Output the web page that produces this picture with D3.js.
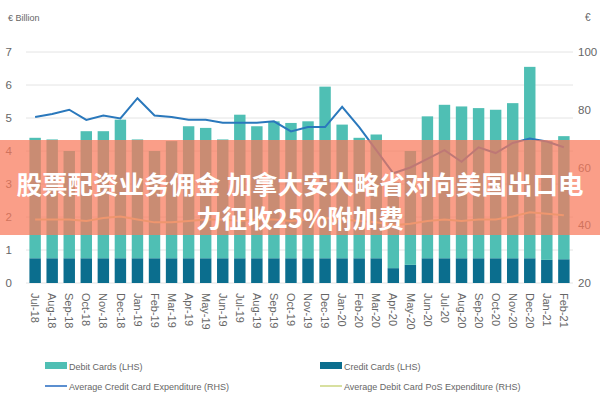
<!DOCTYPE html><html><head><meta charset="utf-8">
<script src="https://cdn.jsdelivr.net/npm/d3@7"></script>
<style>body{margin:0;background:#fff}svg{display:block}</style></head><body>
<svg id="c" width="600" height="400"></svg>
<script>
const months=["Jul-18","Aug-18","Sep-18","Oct-18","Nov-18","Dec-18","Jan-19","Feb-19","Mar-19","Apr-19","May-19","Jun-19","Jul-19","Aug-19","Sep-19","Oct-19","Nov-19","Dec-19","Jan-20","Feb-20","Mar-20","Apr-20","May-20","Jun-20","Jul-20","Aug-20","Sep-20","Oct-20","Nov-20","Dec-20","Jan-21","Feb-21"];
const creditCards=[0.75,0.75,0.75,0.75,0.75,0.75,0.75,0.75,0.75,0.75,0.75,0.75,0.75,0.75,0.75,0.75,0.75,0.75,0.75,0.75,0.75,0.45,0.55,0.75,0.75,0.75,0.75,0.75,0.75,0.75,0.7,0.72];
const debitCards=[3.65,3.6,3.25,3.85,3.85,4.2,3.6,3.25,3.55,4.0,3.95,3.6,4.35,4.0,4.15,4.1,4.15,5.2,4.05,3.65,3.75,2.6,3.45,4.3,4.65,4.6,4.55,4.5,4.7,5.8,3.6,3.73];
const avgCreditExp=[77.5,78.5,80,76.5,78,77,84,78,77.5,76.5,76.5,75.5,75.5,75.5,76,72.5,74,74,81,74,66,58,60,63,66,62,67,65,68.5,70,69,67];
const avgDebitExp=[42,42,42,41.5,42.5,43,42,41,41,41.5,42,42,41.5,42,42,41.5,42,42.5,42,41.5,41,40,40.5,41.5,42,41.5,42,42,43,44.5,44,43.5];
const leftTicks=[0,1,2,3,4,5,6,7], rightTicks=[20,40,60,80,100];
const svg=d3.select("#c");
const m={l:26,r:573,t:52,b:283};
const x=d3.scaleBand().domain(months).range([m.l,m.r]).paddingInner(0.33).paddingOuter(0.2);
const yL=d3.scaleLinear().domain([0,7]).range([m.b,m.t]);
const yR=d3.scaleLinear().domain([20,100]).range([m.b,m.t]);
const tc="#666";
svg.selectAll(".g").data(leftTicks).join("line").attr("x1",m.l).attr("x2",m.r).attr("y1",d=>yL(d)).attr("y2",d=>yL(d)).attr("stroke","#e4e4e4");
const aL=svg.append("g").attr("transform",`translate(${m.l-6},0)`).call(d3.axisLeft(yL).tickValues(leftTicks).tickFormat(d3.format("d")).tickSize(0).tickPadding(8));
const aR=svg.append("g").attr("transform",`translate(${m.r+2},0)`).call(d3.axisRight(yR).tickValues(rightTicks).tickFormat(d3.format("d")).tickSize(0).tickPadding(3));
[aL,aR].forEach(a=>{a.select(".domain").remove();a.selectAll("text").attr("fill",tc).attr("font-family","Liberation Sans").attr("font-size",11.5);});
svg.append("text").attr("x",8).attr("y",21).text("€ Billion").attr("font-size",9).attr("fill",tc).attr("font-family","Liberation Sans");
svg.append("text").attr("x",585).attr("y",21).text("€").attr("font-size",10).attr("fill",tc).attr("font-family","Liberation Sans");
svg.selectAll(".cr").data(months).join("rect").attr("x",d=>x(d)).attr("width",x.bandwidth()).attr("y",(d,i)=>yL(creditCards[i])).attr("height",(d,i)=>yL(0)-yL(creditCards[i])).attr("fill","#0b6e8e");
svg.selectAll(".db").data(months).join("rect").attr("x",d=>x(d)).attr("width",x.bandwidth()).attr("y",(d,i)=>yL(creditCards[i]+debitCards[i])).attr("height",(d,i)=>yL(0)-yL(debitCards[i])).attr("fill","#4fbfb4");
const cx=d=>x(d)+x.bandwidth()/2;
svg.append("path").datum(avgDebitExp).attr("fill","none").attr("stroke","#d8e0a0").attr("stroke-width",2).attr("d",d3.line().x((d,i)=>cx(months[i])).y(d=>yR(d)));
svg.append("path").datum(avgCreditExp).attr("fill","none").attr("stroke","#2a78bc").attr("stroke-width",2).attr("d",d3.line().x((d,i)=>cx(months[i])).y(d=>yR(d)));
svg.append("g").attr("transform",`translate(0,${m.b+6})`).call(d3.axisBottom(x).tickSize(0).tickPadding(0))
 .call(g=>g.select(".domain").remove())
 .selectAll("text").attr("transform","rotate(90)").attr("text-anchor","start").attr("dx",4).attr("dy","0.35em").attr("x",0).attr("y",0)
 .attr("fill",tc).attr("font-size",11).attr("font-family","Liberation Sans");
const leg=[{t:"Debit Cards (LHS)",c:"#4fbfb4",k:"r",x:45,y:366},{t:"Credit Cards (LHS)",c:"#0b6e8e",k:"r",x:320,y:366},{t:"Average Credit Card Expenditure (RHS)",c:"#5b8fd0",k:"l",x:45,y:386},{t:"Average Debit Card PoS Expenditure (RHS)",c:"#d8e0a0",k:"l",x:320,y:386}];
leg.forEach(L=>{if(L.k==="r")svg.append("rect").attr("x",L.x).attr("y",L.y-4).attr("width",22).attr("height",7).attr("fill",L.c);
 else svg.append("line").attr("x1",L.x).attr("x2",L.x+22).attr("y1",L.y).attr("y2",L.y).attr("stroke",L.c).attr("stroke-width",2);
 svg.append("text").attr("x",L.x+24).attr("y",L.y+3.5).text(L.t).attr("font-size",9).attr("fill","#666").attr("font-family","Liberation Sans");});
svg.append("rect").attr("x",0).attr("y",140).attr("width",600).attr("height",95).attr("fill","rgba(248,120,90,0.72)");
const f="Noto Sans CJK SC";
svg.append("text").attr("x",300).attr("y",194).attr("text-anchor","middle").attr("fill","#fff").attr("font-size",25.5).attr("font-weight","bold").attr("font-family",f).text("股票配资业务佣金 加拿大安大略省对向美国出口电");
svg.append("text").attr("x",300).attr("y",228).attr("text-anchor","middle").attr("fill","#fff").attr("font-size",25.5).attr("font-weight","bold").attr("font-family",f).text("力征收25%附加费");
</script></body></html>
